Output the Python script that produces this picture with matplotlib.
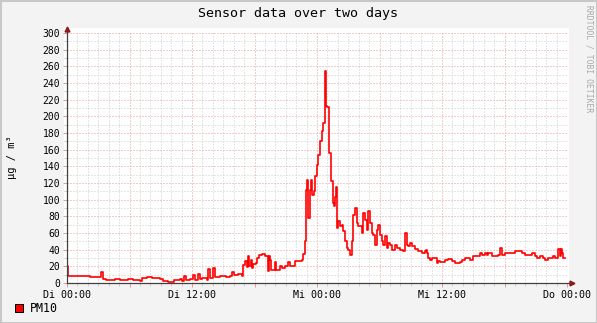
import numpy as np
import matplotlib.pyplot as plt
from matplotlib.patches import Rectangle

# PM10 readings (hours since Di 00:00, ug/m3)
hours = [0.00, 0.10, 0.48, 1.06, 2.21, 3.26, 3.46, 3.74, 4.13, 4.61, 5.09, 5.86,
         6.34, 6.82, 7.01, 7.20, 7.68, 8.16, 8.64, 8.93, 9.22, 9.70, 10.08, 10.27,
         10.85, 11.04, 11.23, 11.42, 11.81, 12.10, 12.29, 12.58, 12.77, 12.96, 13.44,
         13.54, 13.73, 14.02, 14.21, 14.69, 15.26, 15.65, 15.84, 16.03, 16.42, 16.80,
         16.90, 17.09, 17.28, 17.38, 17.47, 17.66, 17.76, 17.86, 18.14, 18.24, 18.43,
         18.72, 19.01, 19.20, 19.30, 19.39, 19.49, 19.58, 19.87, 19.97, 20.06, 20.45,
         20.64, 20.93, 21.22, 21.41, 21.89, 22.08, 22.56, 22.66, 22.85, 22.94, 23.04,
         23.14, 23.33, 23.42, 23.52, 23.71, 23.81, 24.00, 24.10, 24.29, 24.48, 24.58,
         24.77, 24.86, 24.96, 25.15, 25.34, 25.54, 25.63, 25.73, 25.82, 25.92, 26.02,
         26.21, 26.40, 26.50, 26.69, 26.88, 26.98, 27.17, 27.36, 27.46, 27.65, 27.84,
         27.94, 28.32, 28.42, 28.61, 28.80, 28.90, 29.09, 29.28, 29.38, 29.57, 29.76,
         29.86, 30.05, 30.24, 30.34, 30.53, 30.72, 30.82, 31.01, 31.20, 31.49, 31.68,
         31.97, 32.26, 32.45, 32.64, 32.74, 32.93, 33.12, 33.41, 33.70, 34.08, 34.37,
         34.46, 34.56, 34.66, 34.85, 35.04, 35.52, 35.62, 35.81, 36.29, 36.58, 36.96,
         37.25, 37.73, 37.92, 38.21, 38.69, 38.98, 39.36, 39.65, 39.84, 40.13, 40.32,
         40.42, 40.80, 41.09, 41.38, 41.57, 41.76, 42.05, 42.34, 42.72, 43.01, 43.30,
         43.68, 43.97, 44.26, 44.64, 44.93, 45.12, 45.41, 45.70, 45.89, 46.18, 46.37,
         46.66, 46.85, 47.14, 47.33, 47.42, 47.52, 47.62, 47.81]
pm10 = [21, 8, 9, 8, 7, 13, 5, 4, 4, 5, 4, 5,
        4, 4, 2, 6, 7, 6, 6, 5, 2, 1, 1, 4,
        5, 3, 8, 4, 5, 10, 4, 11, 5, 6, 4,
        17, 6, 18, 7, 8, 7, 8, 13, 10, 11, 9,
        22, 26, 19, 33, 21, 28, 18, 23, 24, 30, 34,
        35, 33, 32, 14, 33, 28, 16, 16, 25, 16, 21,
        18, 21, 25, 20, 27, 26, 28, 35, 51, 112, 124,
        78, 112, 124, 106, 111, 128, 142, 154, 170, 182, 192,
        254, 212, 211, 156, 122, 96, 93, 103, 115, 66, 75,
        69, 70, 62, 50, 42, 40, 34, 50, 82, 90, 72,
        68, 60, 84, 76, 64, 86, 72, 60, 58, 46, 64,
        70, 58, 50, 46, 56, 42, 48, 46, 40, 46, 42,
        40, 38, 60, 46, 44, 48, 44, 41, 38, 36, 38,
        40, 36, 30, 28, 30, 24, 26, 25, 28, 29, 26,
        24, 25, 28, 30, 28, 32, 33, 36, 34, 36, 34,
        36, 33, 32, 34, 42, 34, 36, 36, 36, 38, 38,
        36, 34, 34, 36, 32, 30, 33, 30, 28, 30, 30,
        32, 30, 41, 32, 41, 36, 30, 30]

xtick_hours = [0, 12, 24, 36, 48]
xtick_labels = ["Di 00:00", "Di 12:00", "Mi 00:00", "Mi 12:00", "Do 00:00"]

W, H = 597, 323
BG = "#f3f3f3"
mono = "DejaVu Sans Mono"

fig = plt.figure(figsize=(W / 100, H / 100), dpi=100, facecolor=BG)

# white canvas a bit larger than the data area, like rrdtool
fig.patches.append(Rectangle((64 / W, 40 / H), 505 / W, 255 / H,
                             transform=fig.transFigure, facecolor="white",
                             edgecolor="none", zorder=-2))
# frame around the image
fig.patches.append(Rectangle((0.5 / W, 0.5 / H), (W - 1) / W, (H - 1) / H,
                             transform=fig.transFigure, facecolor="none",
                             edgecolor="#c8c8c8", lw=1.5, zorder=-2))

ax = fig.add_axes([67 / W, 40 / H, 500 / W, 250 / H])
ax.set_facecolor("white")
ax.set_xlim(0, 48)
ax.set_ylim(0, 300)
for s in ax.spines.values():
    s.set_visible(False)

dots = (0, (1, 2))
ax.set_xticks(np.arange(0, 49, 6))
ax.set_xticks(np.arange(0, 49, 1), minor=True)
ax.set_yticks(np.arange(0, 301, 20))
ax.set_yticks(np.arange(0, 301, 10), minor=True)
ax.grid(which="minor", color="#cccccc", linestyle=dots, lw=0.72)
ax.grid(which="major", color="#eb9a9a", linestyle=dots, lw=0.72)
ax.tick_params(which="major", length=3, width=0.72, color="#eb9a9a")
ax.tick_params(which="minor", length=2, width=0.72, color="#cccccc")

ax.set_xticklabels([xtick_labels[xtick_hours.index(h)] if h in xtick_hours else ""
                    for h in range(0, 49, 6)], fontsize=7.2, family=mono)
ax.set_yticklabels([str(v) for v in range(0, 301, 20)], fontsize=7, family=mono)
ax.tick_params(axis="x", pad=2)
ax.tick_params(axis="y", pad=2)

ax.step(hours, pm10, where="post", color="#ff0000", lw=1.2, zorder=3)

# axes with arrows
ax.plot([0, 1.01], [0, 0], transform=ax.transAxes, color="#404040", lw=0.9,
        clip_on=False, zorder=4)
ax.plot([0, 0], [0, 1.015], transform=ax.transAxes, color="#404040", lw=0.9,
        clip_on=False, zorder=4)
ax.plot([1.01], [0], transform=ax.transAxes, marker=">", ms=3.5, color="#8b1a1a",
        clip_on=False, zorder=5)
ax.plot([0], [1.015], transform=ax.transAxes, marker="^", ms=3.5, color="#8b1a1a",
        clip_on=False, zorder=5)

fig.text(298 / W, 1 - 14 / H, "Sensor data over two days", ha="center", va="center",
         fontsize=9.6, family=mono)
fig.text(12 / W, 1 - 157 / H, "µg / m³", ha="center", va="center", rotation=90,
         fontsize=7.5, family=mono)
fig.text(589 / W, 1 - 5 / H, "RRDTOOL / TOBI OETIKER", ha="center", va="top",
         rotation=-90, fontsize=5.8, family=mono, color="#a8a8a8")

# legend
fig.patches.append(Rectangle((15 / W, 1 - 312 / H), 8 / W, 8 / H,
                             transform=fig.transFigure, facecolor="#ff0000",
                             edgecolor="black", lw=0.72))
fig.text(30 / W, 1 - 308 / H, "PM10", ha="left", va="center", fontsize=8.4,
         family=mono)

fig.savefig("out.png", dpi=100, facecolor=BG)
